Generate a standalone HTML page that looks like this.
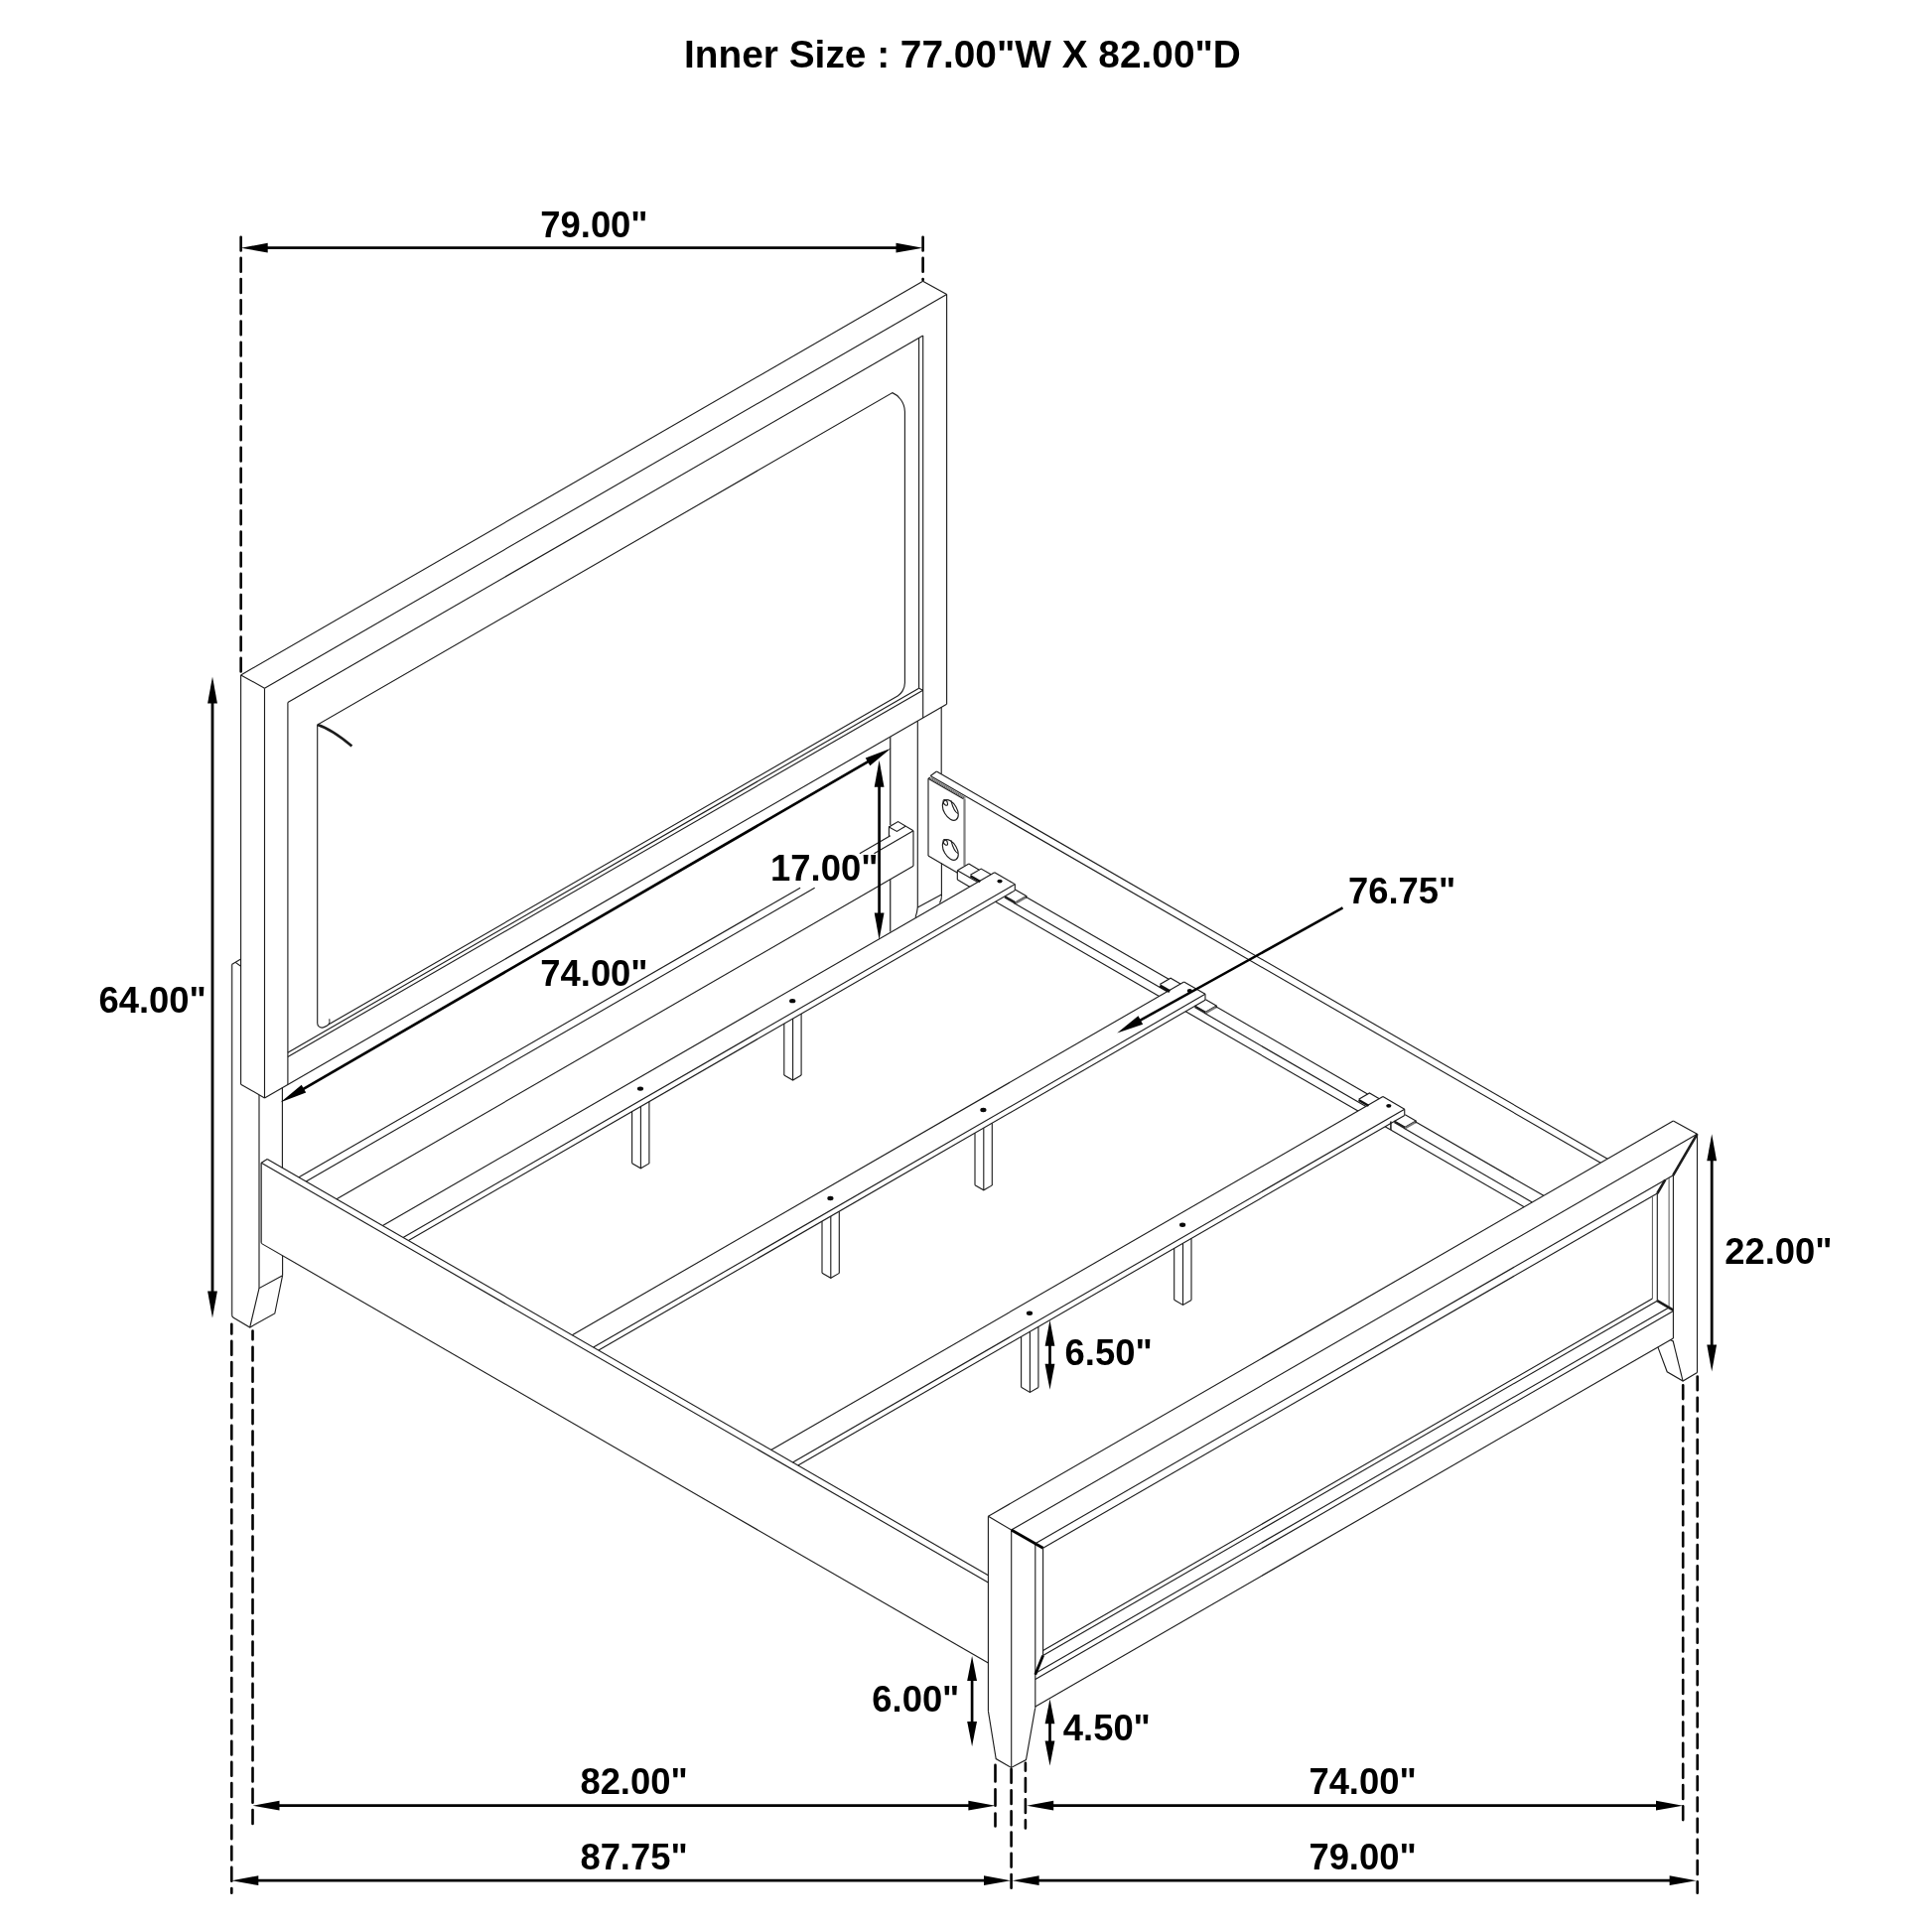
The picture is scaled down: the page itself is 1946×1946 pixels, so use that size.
<!DOCTYPE html>
<html><head><meta charset="utf-8"><title>Bed dimensions</title>
<style>html,body{margin:0;padding:0;background:#fff}svg{display:block}text{font-family:"Liberation Sans",sans-serif;font-weight:bold;fill:#000}</style>
</head><body>
<svg width="1946" height="1946" viewBox="0 0 1946 1946">
<defs><filter id="noop" x="0" y="0" width="1946" height="1946" filterUnits="userSpaceOnUse"><feOffset dx="0" dy="0"/></filter></defs>
<rect width="1946" height="1946" fill="#fff"/>
<g stroke="#1c1c1c" fill="none" stroke-linecap="butt" stroke-linejoin="miter">
<line x1="242.6" y1="679.93" x2="929.6" y2="283.3" stroke-width="1.12"/>
<line x1="266.5" y1="693.14" x2="953.6" y2="296.44" stroke-width="1.12"/>
<line x1="242.6" y1="679.93" x2="266.5" y2="693.14" stroke-width="1.12"/>
<line x1="929.6" y1="283.3" x2="953.6" y2="296.44" stroke-width="1.12"/>
<line x1="266.5" y1="693.14" x2="266.5" y2="1105.94" stroke-width="1.12"/>
<line x1="953.6" y1="296.44" x2="953.6" y2="709.24" stroke-width="1.12"/>
<line x1="242.6" y1="679.93" x2="242.6" y2="1092.14" stroke-width="1.12"/>
<line x1="242.6" y1="1092.14" x2="266.5" y2="1105.94" stroke-width="1.12"/>
<line x1="266.5" y1="1105.94" x2="953.6" y2="709.24" stroke-width="1.12"/>
<line x1="289.9" y1="707.43" x2="929.7" y2="338.04" stroke-width="1.12"/>
<line x1="289.9" y1="707.43" x2="289.9" y2="1092.43" stroke-width="1.12"/>
<line x1="929.7" y1="338.04" x2="929.7" y2="723.04" stroke-width="1.12"/>
<line x1="925.6" y1="340.4" x2="925.6" y2="693.2" stroke-width="1.12"/>
<line x1="289.9" y1="1064.53" x2="929.7" y2="695.14" stroke-width="1.12"/>
<line x1="289.9" y1="1060.23" x2="925.6" y2="693.2" stroke-width="1.12"/>
<line x1="925.6" y1="693.2" x2="929.7" y2="695.14" stroke-width="1.12"/>
<path d="M319.7,1030.42 L319.7,730.02 L898.9,395.62 C904.4,397.92 911.2,404.62 911.4,414.62 L911.4,687.8 C911.4,693.8 907.7,698.94 904.2,700.96 L331.2,1031.78 Q324.7,1037.03 321.2,1033.92 Q319.7,1032.42 319.7,1030.42" stroke-width="1.12" fill="none"/>
<path d="M331.2,1031.78 q1.2,-2 0.6,-5.5" stroke-width="1.0" fill="none"/>
<path d="M319.8,730.1 Q334,734.5 354.4,751.6" stroke-width="2.6" fill="none"/>
<line x1="233.6" y1="971.4" x2="233.6" y2="1324.8" stroke-width="1.5" stroke="#4a4a4a"/>
<line x1="233.4" y1="971.5" x2="242.6" y2="966.1" stroke-width="1.12"/>
<line x1="237.2" y1="969.4" x2="242.6" y2="973.3" stroke-width="1.12"/>
<line x1="261" y1="1103" x2="261" y2="1297.6" stroke-width="1.12"/>
<line x1="284.4" y1="1095.6" x2="284.4" y2="1176.2" stroke-width="1.12"/>
<line x1="284.6" y1="1264.71" x2="284.6" y2="1284.7" stroke-width="1.12"/>
<path d="M233.6,1324.6 Q233.7,1326.4 235.2,1327.3 L251.7,1337 L276.8,1323 L284.6,1284.7" stroke-width="1.12" fill="none"/>
<path d="M251.7,1337 L261,1297.6 L284.6,1284.7" stroke-width="1.12" fill="none"/>
<line x1="269.2" y1="1167.42" x2="995.4" y2="1586.69" stroke-width="1.12"/>
<line x1="263.2" y1="1171.26" x2="995.4" y2="1593.99" stroke-width="1.12"/>
<line x1="263.2" y1="1252.36" x2="995.4" y2="1675.09" stroke-width="1.12"/>
<line x1="263.2" y1="1171.26" x2="263.2" y2="1252.36" stroke-width="1.12"/>
<line x1="262.1" y1="1171.22" x2="262.1" y2="1251.32" stroke-width="0.8" stroke="#777"/>
<line x1="263.2" y1="1171.26" x2="269.2" y2="1167.42" stroke-width="1.12"/>
<line x1="301.03" y1="1185.8" x2="806.1" y2="894.2" stroke-width="1.12"/>
<line x1="865.85" y1="859.7" x2="896.8" y2="841.83" stroke-width="1.12"/>
<line x1="308.31" y1="1190" x2="820.65" y2="894.2" stroke-width="1.12"/>
<line x1="880.4" y1="859.7" x2="920" y2="836.84" stroke-width="1.12"/>
<line x1="339.05" y1="1207.75" x2="920" y2="872.34" stroke-width="1.12"/>
<line x1="920" y1="836.84" x2="920" y2="872.34" stroke-width="1.12"/>
<path d="M920,836.84 L904.6,827.6 L895.4,832.9 L895.4,842.5" stroke-width="1.12" fill="none"/>
<path d="M895.4,832.9 L903.4,837.4 L912,832.3" stroke-width="1.12" fill="none"/>
<line x1="896.7" y1="742.09" x2="896.7" y2="830.9" stroke-width="1.4" stroke="#3a3a3a"/>
<line x1="896.7" y1="885.79" x2="896.7" y2="938.4" stroke-width="1.4" stroke="#3a3a3a"/>
<line x1="924.3" y1="726.16" x2="924.3" y2="913.9" stroke-width="1.12"/>
<line x1="948.2" y1="712.36" x2="948.2" y2="779.4" stroke-width="1.12"/>
<line x1="948.4" y1="869.6" x2="948.4" y2="903.5" stroke-width="1.12"/>
<line x1="924.3" y1="913.9" x2="948.4" y2="901" stroke-width="1.12"/>
<path d="M924.3,913.9 Q923.8,919 922.1,923.9" stroke-width="1.12" fill="none"/>
<path d="M948.4,903.5 Q948.2,906.5 946.5,909.6" stroke-width="1.12" fill="none"/>
<line x1="943.4" y1="777.07" x2="1619.12" y2="1167.2" stroke-width="1.12"/>
<line x1="937.2" y1="781.49" x2="1612.19" y2="1171.2" stroke-width="1.12"/>
<line x1="937.2" y1="781.49" x2="943.4" y2="777.07" stroke-width="1.12"/>
<line x1="935" y1="784.3" x2="935" y2="862.1" stroke-width="1.12"/>
<line x1="935" y1="784.3" x2="937.2" y2="783" stroke-width="1.12"/>
<line x1="935" y1="784.3" x2="970.6" y2="804.85" stroke-width="1.12"/>
<line x1="936.8" y1="784.04" x2="971.8" y2="804.25" stroke-width="0.9" stroke="#555"/>
<line x1="938" y1="783.63" x2="972.4" y2="803.49" stroke-width="0.9" stroke="#555"/>
<line x1="971.5" y1="804.57" x2="971.5" y2="871.9" stroke-width="2.3" stroke="#858585"/>
<line x1="935" y1="862.1" x2="964.6" y2="879.19" stroke-width="1.12"/>
<circle r="9.2" transform="matrix(0.866,0.5,0,-1,957.3,816.0)" vector-effect="non-scaling-stroke" stroke-width="1.12" fill="none"/>
<circle r="2.6" transform="matrix(0.866,0.5,0,-1,952.3,808.4)" vector-effect="non-scaling-stroke" stroke-width="1.1" fill="none"/>
<path d="M957.9,806.4 Q960.7,817.5 964.9,819.6" stroke-width="1.1" fill="none"/>
<circle r="9.2" transform="matrix(0.866,0.5,0,-1,957.3,856.0)" vector-effect="non-scaling-stroke" stroke-width="1.12" fill="none"/>
<circle r="2.6" transform="matrix(0.866,0.5,0,-1,952.3,848.4)" vector-effect="non-scaling-stroke" stroke-width="1.1" fill="none"/>
<path d="M957.9,846.4 Q960.7,857.5 964.9,859.6" stroke-width="1.1" fill="none"/>
<path d="M964.32,876.75 L975.84,870.1" stroke-width="1.12" fill="none"/>
<line x1="975.84" y1="870.1" x2="986.32" y2="876.15" stroke-width="1.12"/>
<line x1="964.32" y1="876.75" x2="984.76" y2="888.55" stroke-width="1.12"/>
<line x1="964.32" y1="876.75" x2="964.32" y2="886.05" stroke-width="1.12"/>
<line x1="964.32" y1="886.05" x2="976.7" y2="893.2" stroke-width="1.12"/>
<line x1="385.47" y1="1234.55" x2="1001.73" y2="878.75" stroke-width="1.12"/>
<line x1="406.04" y1="1246.42" x2="1022.3" y2="890.62" stroke-width="1.12"/>
<line x1="411.45" y1="1249.55" x2="1022.3" y2="896.88" stroke-width="1.12"/>
<line x1="1001.73" y1="878.75" x2="1022.3" y2="890.62" stroke-width="1.12"/>
<line x1="1022.3" y1="890.62" x2="1022.3" y2="896.88" stroke-width="1.12"/>
<path d="M998.18,880.8 L988.22,875.05 L977.4,881.3" stroke-width="1.12" fill="none"/>
<line x1="977.4" y1="882.22" x2="987.36" y2="887.97" stroke-width="2.3" stroke="#111"/>
<path d="M1022.91,896.22 L1033.73,902.47 L1022.91,908.72 L1012.08,902.47" stroke-width="1.12" fill="none"/>
<line x1="1012.08" y1="903.57" x2="1022.91" y2="909.82" stroke-width="2.2" stroke="#222"/>
<line x1="1022.91" y1="909.82" x2="1033.73" y2="903.57" stroke-width="2.2" stroke="#777"/>
<line x1="1033.73" y1="902.47" x2="1033.73" y2="904.67" stroke-width="1.0"/>
<line x1="1033.08" y1="903.15" x2="1177.19" y2="986.35" stroke-width="1.12"/>
<line x1="1021.56" y1="909.8" x2="1175.63" y2="998.75" stroke-width="1.12"/>
<line x1="1002.68" y1="908.2" x2="1167.58" y2="1003.4" stroke-width="1.12"/>
<line x1="576.34" y1="1344.75" x2="1192.6" y2="988.95" stroke-width="1.12"/>
<line x1="597.73" y1="1357.1" x2="1213.99" y2="1001.3" stroke-width="1.12"/>
<line x1="602.93" y1="1360.1" x2="1213.99" y2="1007.3" stroke-width="1.12"/>
<line x1="1192.6" y1="988.95" x2="1213.99" y2="1001.3" stroke-width="1.12"/>
<line x1="1213.99" y1="1001.3" x2="1213.99" y2="1007.3" stroke-width="1.12"/>
<path d="M1189.05,991 L1179.09,985.25 L1168.27,991.5" stroke-width="1.12" fill="none"/>
<line x1="1168.27" y1="992.82" x2="1178.23" y2="998.57" stroke-width="3.3" stroke="#111"/>
<path d="M1214.38,1006.78 L1225.21,1013.03 L1214.38,1019.28 L1203.56,1013.03" stroke-width="1.12" fill="none"/>
<line x1="1203.56" y1="1014.13" x2="1214.38" y2="1020.38" stroke-width="2.2" stroke="#222"/>
<line x1="1214.38" y1="1020.38" x2="1225.21" y2="1014.13" stroke-width="2.2" stroke="#777"/>
<line x1="1225.21" y1="1013.03" x2="1225.21" y2="1015.23" stroke-width="1.0"/>
<line x1="1224.56" y1="1013.7" x2="1377.5" y2="1102" stroke-width="1.12"/>
<line x1="1213.04" y1="1020.35" x2="1375.94" y2="1114.4" stroke-width="1.12"/>
<line x1="1194.16" y1="1018.75" x2="1367.89" y2="1119.05" stroke-width="1.12"/>
<line x1="776.65" y1="1460.4" x2="1392.92" y2="1104.6" stroke-width="1.12"/>
<line x1="798.48" y1="1473" x2="1414.74" y2="1117.2" stroke-width="1.12"/>
<line x1="803.84" y1="1476.1" x2="1414.74" y2="1123.4" stroke-width="1.12"/>
<line x1="1392.92" y1="1104.6" x2="1414.74" y2="1117.2" stroke-width="1.12"/>
<line x1="1414.74" y1="1117.2" x2="1414.74" y2="1123.4" stroke-width="1.12"/>
<path d="M1389.36,1106.65 L1379.41,1100.9 L1368.58,1107.15" stroke-width="1.12" fill="none"/>
<line x1="1368.58" y1="1108.07" x2="1378.54" y2="1113.82" stroke-width="2.3" stroke="#111"/>
<path d="M1415.3,1122.78 L1426.13,1129.03 L1415.3,1135.28 L1404.48,1129.03" stroke-width="1.12" fill="none"/>
<line x1="1404.48" y1="1130.12" x2="1415.3" y2="1136.38" stroke-width="2.2" stroke="#222"/>
<line x1="1415.3" y1="1136.38" x2="1426.13" y2="1130.12" stroke-width="2.2" stroke="#777"/>
<line x1="1426.13" y1="1129.03" x2="1426.13" y2="1131.23" stroke-width="1.0"/>
<line x1="1425.48" y1="1129.7" x2="1554.78" y2="1204.35" stroke-width="1.12"/>
<line x1="1413.96" y1="1136.35" x2="1543.26" y2="1211" stroke-width="1.12"/>
<line x1="1395.08" y1="1134.75" x2="1535.2" y2="1215.65" stroke-width="1.12"/>
<line x1="1400.9" y1="1129.41" x2="1400.9" y2="1138.11" stroke-width="1.5"/>
<line x1="636.6" y1="1119.56" x2="636.6" y2="1171.72" stroke-width="1.12"/>
<line x1="645.4" y1="1114.48" x2="645.4" y2="1176.8" stroke-width="1.12"/>
<line x1="653.9" y1="1109.57" x2="653.9" y2="1171.89" stroke-width="1.12"/>
<path d="M636.6,1171.72 L645.4,1176.8 L653.9,1171.89" stroke-width="1.12" fill="none"/>
<ellipse cx="645" cy="1096.58" rx="3.1" ry="2.2" fill="#0a0a0a" stroke="none"/>
<line x1="789.8" y1="1031.11" x2="789.8" y2="1082.92" stroke-width="1.12"/>
<line x1="798.6" y1="1026.03" x2="798.6" y2="1088" stroke-width="1.12"/>
<line x1="807.1" y1="1021.12" x2="807.1" y2="1083.09" stroke-width="1.12"/>
<path d="M789.8,1082.92 L798.6,1088 L807.1,1083.09" stroke-width="1.12" fill="none"/>
<ellipse cx="798.2" cy="1008.13" rx="3.1" ry="2.2" fill="#0a0a0a" stroke="none"/>
<line x1="828" y1="1230.15" x2="828" y2="1282.22" stroke-width="1.12"/>
<line x1="836.8" y1="1225.07" x2="836.8" y2="1287.3" stroke-width="1.12"/>
<line x1="845.3" y1="1220.17" x2="845.3" y2="1282.39" stroke-width="1.12"/>
<path d="M828,1282.22 L836.8,1287.3 L845.3,1282.39" stroke-width="1.12" fill="none"/>
<ellipse cx="836.4" cy="1206.95" rx="3.1" ry="2.2" fill="#0a0a0a" stroke="none"/>
<line x1="982" y1="1141.24" x2="982" y2="1193.72" stroke-width="1.12"/>
<line x1="990.8" y1="1136.16" x2="990.8" y2="1198.8" stroke-width="1.12"/>
<line x1="999.3" y1="1131.25" x2="999.3" y2="1193.89" stroke-width="1.12"/>
<path d="M982,1193.72 L990.8,1198.8 L999.3,1193.89" stroke-width="1.12" fill="none"/>
<ellipse cx="990.4" cy="1118.04" rx="3.1" ry="2.2" fill="#0a0a0a" stroke="none"/>
<line x1="1028.6" y1="1346.34" x2="1028.6" y2="1397.32" stroke-width="1.12"/>
<line x1="1037.4" y1="1341.26" x2="1037.4" y2="1402.4" stroke-width="1.12"/>
<line x1="1045.9" y1="1336.35" x2="1045.9" y2="1397.49" stroke-width="1.12"/>
<path d="M1028.6,1397.32 L1037.4,1402.4 L1045.9,1397.49" stroke-width="1.12" fill="none"/>
<ellipse cx="1037" cy="1322.69" rx="3.1" ry="2.2" fill="#0a0a0a" stroke="none"/>
<line x1="1182.7" y1="1257.37" x2="1182.7" y2="1309.32" stroke-width="1.12"/>
<line x1="1191.5" y1="1252.29" x2="1191.5" y2="1314.4" stroke-width="1.12"/>
<line x1="1200" y1="1247.38" x2="1200" y2="1309.49" stroke-width="1.12"/>
<path d="M1182.7,1309.32 L1191.5,1314.4 L1200,1309.49" stroke-width="1.12" fill="none"/>
<ellipse cx="1191.1" cy="1233.72" rx="3.1" ry="2.2" fill="#0a0a0a" stroke="none"/>
<ellipse cx="1007.02" cy="887.57" rx="2.6" ry="1.9" fill="#0a0a0a" stroke="none"/>
<ellipse cx="1198.3" cy="998.01" rx="2.6" ry="1.9" fill="#0a0a0a" stroke="none"/>
<ellipse cx="1398.83" cy="1113.79" rx="2.6" ry="1.9" fill="#0a0a0a" stroke="none"/>
<line x1="995.4" y1="1527.31" x2="1685.4" y2="1128.93" stroke-width="1.12"/>
<line x1="1018.7" y1="1541.05" x2="1709.5" y2="1142.22" stroke-width="1.12"/>
<line x1="995.4" y1="1527.31" x2="1018.7" y2="1541.05" stroke-width="1.12"/>
<line x1="1685.4" y1="1128.93" x2="1709.5" y2="1142.22" stroke-width="1.12"/>
<line x1="995.4" y1="1527.31" x2="995.4" y2="1723.4" stroke-width="1.12"/>
<line x1="1018.7" y1="1541.05" x2="1018.7" y2="1780.4" stroke-width="1.12"/>
<line x1="1042.8" y1="1554.74" x2="1042.8" y2="1720.8" stroke-width="1.12"/>
<path d="M995.4,1723.4 L1003.2,1771.6 L1018.5,1780.4 L1033.5,1772.6 L1042.6,1720.8" stroke-width="1.12" fill="none"/>
<line x1="1018.7" y1="1541.05" x2="1050.6" y2="1559.24" stroke-width="2.8" stroke="#000"/>
<line x1="1042.8" y1="1554.74" x2="1685.4" y2="1183.73" stroke-width="1.12"/>
<line x1="1050.6" y1="1559.24" x2="1669.3" y2="1202.03" stroke-width="1.12"/>
<line x1="1050.6" y1="1559.24" x2="1050.6" y2="1667.44" stroke-width="1.12"/>
<line x1="1050.6" y1="1662.44" x2="1664.4" y2="1308.06" stroke-width="1.12"/>
<line x1="1050.6" y1="1667.44" x2="1669.3" y2="1310.23" stroke-width="1.12"/>
<line x1="1050.6" y1="1667.44" x2="1042.8" y2="1686.84" stroke-width="2.8" stroke="#000"/>
<line x1="1044.8" y1="1684.28" x2="1680.6" y2="1317.21" stroke-width="1.12"/>
<line x1="1042.8" y1="1691.44" x2="1685.4" y2="1320.43" stroke-width="1.12"/>
<line x1="1042.8" y1="1718.94" x2="1685.4" y2="1347.93" stroke-width="1.12"/>
<line x1="1664.4" y1="1205.46" x2="1664.4" y2="1308.06" stroke-width="0.9" stroke="#444"/>
<line x1="1669.3" y1="1202.03" x2="1669.3" y2="1310.23" stroke-width="1.12"/>
<line x1="1681.1" y1="1185.72" x2="1681.1" y2="1318.52" stroke-width="0.9" stroke="#444"/>
<line x1="1685.4" y1="1183.73" x2="1685.4" y2="1347.93" stroke-width="1.12"/>
<line x1="1709.5" y1="1142.22" x2="1709.5" y2="1382.6" stroke-width="1.12"/>
<line x1="1709.5" y1="1142.22" x2="1685.2" y2="1183.93" stroke-width="2.6"/>
<line x1="1677.3" y1="1188.41" x2="1669.3" y2="1202.03" stroke-width="2.6"/>
<line x1="1669.3" y1="1310.03" x2="1685.4" y2="1319.63" stroke-width="2.6"/>
<line x1="1682.4" y1="1349.4" x2="1685.7" y2="1351.3" stroke-width="1.12"/>
<line x1="1685.2" y1="1350.9" x2="1695.1" y2="1391.1" stroke-width="1.12"/>
<path d="M1669.9,1356.88 L1679.2,1381.8 L1695.1,1391.1 L1709.5,1382.6" stroke-width="1.12" fill="none"/>
<line x1="242.65" y1="238.7" x2="242.65" y2="678" stroke="#000" stroke-width="2.6" stroke-linecap="round" stroke-dasharray="13.8 7.4" stroke-dashoffset="0"/>
<line x1="929.6" y1="238.7" x2="929.6" y2="281.9" stroke="#000" stroke-width="2.6" stroke-linecap="round" stroke-dasharray="13.8 7.4" stroke-dashoffset="0"/>
<line x1="233.3" y1="1333.7" x2="233.3" y2="1906.7" stroke="#000" stroke-width="2.6" stroke-linecap="round" stroke-dasharray="13.8 7.4" stroke-dashoffset="4"/>
<line x1="254.5" y1="1340.5" x2="254.5" y2="1842" stroke="#000" stroke-width="2.6" stroke-linecap="round" stroke-dasharray="13.8 7.4" stroke-dashoffset="5"/>
<line x1="1002.5" y1="1777.9" x2="1002.5" y2="1839.4" stroke="#000" stroke-width="2.6" stroke-linecap="round" stroke-dasharray="16.5 7.85" stroke-dashoffset="0"/>
<line x1="1018.6" y1="1780.8" x2="1018.6" y2="1905.3" stroke="#000" stroke-width="2.6" stroke-linecap="round" stroke-dasharray="13.8 7.4" stroke-dashoffset="-1.2"/>
<line x1="1032.9" y1="1775.8" x2="1032.9" y2="1841.5" stroke="#000" stroke-width="2.6" stroke-linecap="round" stroke-dasharray="13.8 7.4" stroke-dashoffset="6"/>
<line x1="1695.2" y1="1395.3" x2="1695.2" y2="1836.1" stroke="#000" stroke-width="2.6" stroke-linecap="round" stroke-dasharray="13.8 7.4" stroke-dashoffset="0"/>
<line x1="1709.7" y1="1386.5" x2="1709.7" y2="1906.7" stroke="#000" stroke-width="2.6" stroke-linecap="round" stroke-dasharray="13.8 7.4" stroke-dashoffset="0"/>
<line x1="264.3" y1="249.7" x2="907.9" y2="249.7" stroke-width="2.7" stroke="#000"/>
<polygon points="929.5,249.7 902.5,254.6 902.5,244.8" fill="#000" stroke="none"/>
<polygon points="242.7,249.7 269.7,244.8 269.7,254.6" fill="#000" stroke="none"/>
<line x1="214" y1="703.1" x2="214" y2="1305.8" stroke-width="2.8" stroke="#000"/>
<polygon points="214,1327.4 209.1,1300.4 218.9,1300.4" fill="#000" stroke="none"/>
<polygon points="214,681.5 218.9,708.5 209.1,708.5" fill="#000" stroke="none"/>
<line x1="885.6" y1="787.3" x2="885.6" y2="925" stroke-width="2.7" stroke="#000"/>
<polygon points="885.6,946.6 880.7,919.6 890.5,919.6" fill="#000" stroke="none"/>
<polygon points="885.6,765.7 890.5,792.7 880.7,792.7" fill="#000" stroke="none"/>
<line x1="1724.2" y1="1163.9" x2="1724.2" y2="1359.9" stroke-width="2.8" stroke="#000"/>
<polygon points="1724.2,1381.5 1719.3,1354.5 1729.1,1354.5" fill="#000" stroke="none"/>
<polygon points="1724.2,1142.3 1729.1,1169.3 1719.3,1169.3" fill="#000" stroke="none"/>
<line x1="1057.5" y1="1350.6" x2="1057.5" y2="1379" stroke-width="2.7" stroke="#000"/>
<polygon points="1057.5,1399.8 1052.6,1373.8 1062.4,1373.8" fill="#000" stroke="none"/>
<polygon points="1057.5,1329.8 1062.4,1355.8 1052.6,1355.8" fill="#000" stroke="none"/>
<line x1="979.1" y1="1688" x2="979.1" y2="1739.1" stroke-width="2.7" stroke="#000"/>
<polygon points="979.1,1759.1 974.2,1734.1 984,1734.1" fill="#000" stroke="none"/>
<polygon points="979.1,1668 984,1693 974.2,1693" fill="#000" stroke="none"/>
<line x1="1057.5" y1="1731.2" x2="1057.5" y2="1758.6" stroke-width="2.7" stroke="#000"/>
<polygon points="1057.5,1778.6 1052.6,1753.6 1062.4,1753.6" fill="#000" stroke="none"/>
<polygon points="1057.5,1711.2 1062.4,1736.2 1052.6,1736.2" fill="#000" stroke="none"/>
<line x1="276.1" y1="1818.7" x2="980.8" y2="1818.7" stroke-width="2.7" stroke="#000"/>
<polygon points="1002.4,1818.7 975.4,1823.6 975.4,1813.8" fill="#000" stroke="none"/>
<polygon points="254.5,1818.7 281.5,1813.8 281.5,1823.6" fill="#000" stroke="none"/>
<line x1="1055.8" y1="1818.7" x2="1673.4" y2="1818.7" stroke-width="2.7" stroke="#000"/>
<polygon points="1695,1818.7 1668,1823.6 1668,1813.8" fill="#000" stroke="none"/>
<polygon points="1034.2,1818.7 1061.2,1813.8 1061.2,1823.6" fill="#000" stroke="none"/>
<line x1="254.9" y1="1894.2" x2="996.4" y2="1894.2" stroke-width="2.7" stroke="#000"/>
<polygon points="1018,1894.2 991,1899.1 991,1889.3" fill="#000" stroke="none"/>
<polygon points="233.3,1894.2 260.3,1889.3 260.3,1899.1" fill="#000" stroke="none"/>
<line x1="1041.2" y1="1894.2" x2="1687" y2="1894.2" stroke-width="2.7" stroke="#000"/>
<polygon points="1708.6,1894.2 1681.6,1899.1 1681.6,1889.3" fill="#000" stroke="none"/>
<polygon points="1019.6,1894.2 1046.6,1889.3 1046.6,1899.1" fill="#000" stroke="none"/>
<line x1="301.29" y1="1099.37" x2="878.71" y2="764.63" stroke-width="2.7" stroke="#000"/>
<polygon points="897.4,753.8 876.3,771.23 871.78,763.45" fill="#000" stroke="none"/>
<polygon points="282.6,1110.2 303.7,1092.77 308.22,1100.55" fill="#000" stroke="none"/>
<line x1="1352.5" y1="914.4" x2="1144.08" y2="1030.12" stroke-width="2.5" stroke="#000"/>
<polygon points="1125.2,1040.6 1146.48,1023.3 1151.14,1031.69" fill="#000" stroke="none"/>
</g>
<g filter="url(#noop)">
<text x="544.3" y="238.6" font-size="36.4">79.00&quot;</text>
<text x="99.5" y="1019.8" font-size="36.4">64.00&quot;</text>
<text x="776.1" y="887.3" font-size="36.4">17.00&quot;</text>
<text x="544.3" y="992.8" font-size="36.4">74.00&quot;</text>
<text x="1358" y="910.4" font-size="36.4">76.75&quot;</text>
<text x="1737.2" y="1272.8" font-size="36.4">22.00&quot;</text>
<text x="1072.6" y="1374.6" font-size="36.4">6.50&quot;</text>
<text x="878.3" y="1724" font-size="36.4">6.00&quot;</text>
<text x="1070.8" y="1753.3" font-size="36.4">4.50&quot;</text>
<text x="584.4" y="1806.8" font-size="36.4">82.00&quot;</text>
<text x="1318.4" y="1806.8" font-size="36.4">74.00&quot;</text>
<text x="584.4" y="1882.6" font-size="36.4">87.75&quot;</text>
<text x="1318.4" y="1882.7" font-size="36.4">79.00&quot;</text>
<text x="689.1" y="68" font-size="38.8">Inner Size : 77.00&quot;W X 82.00&quot;D</text>
</g>
</svg>
</body></html>
